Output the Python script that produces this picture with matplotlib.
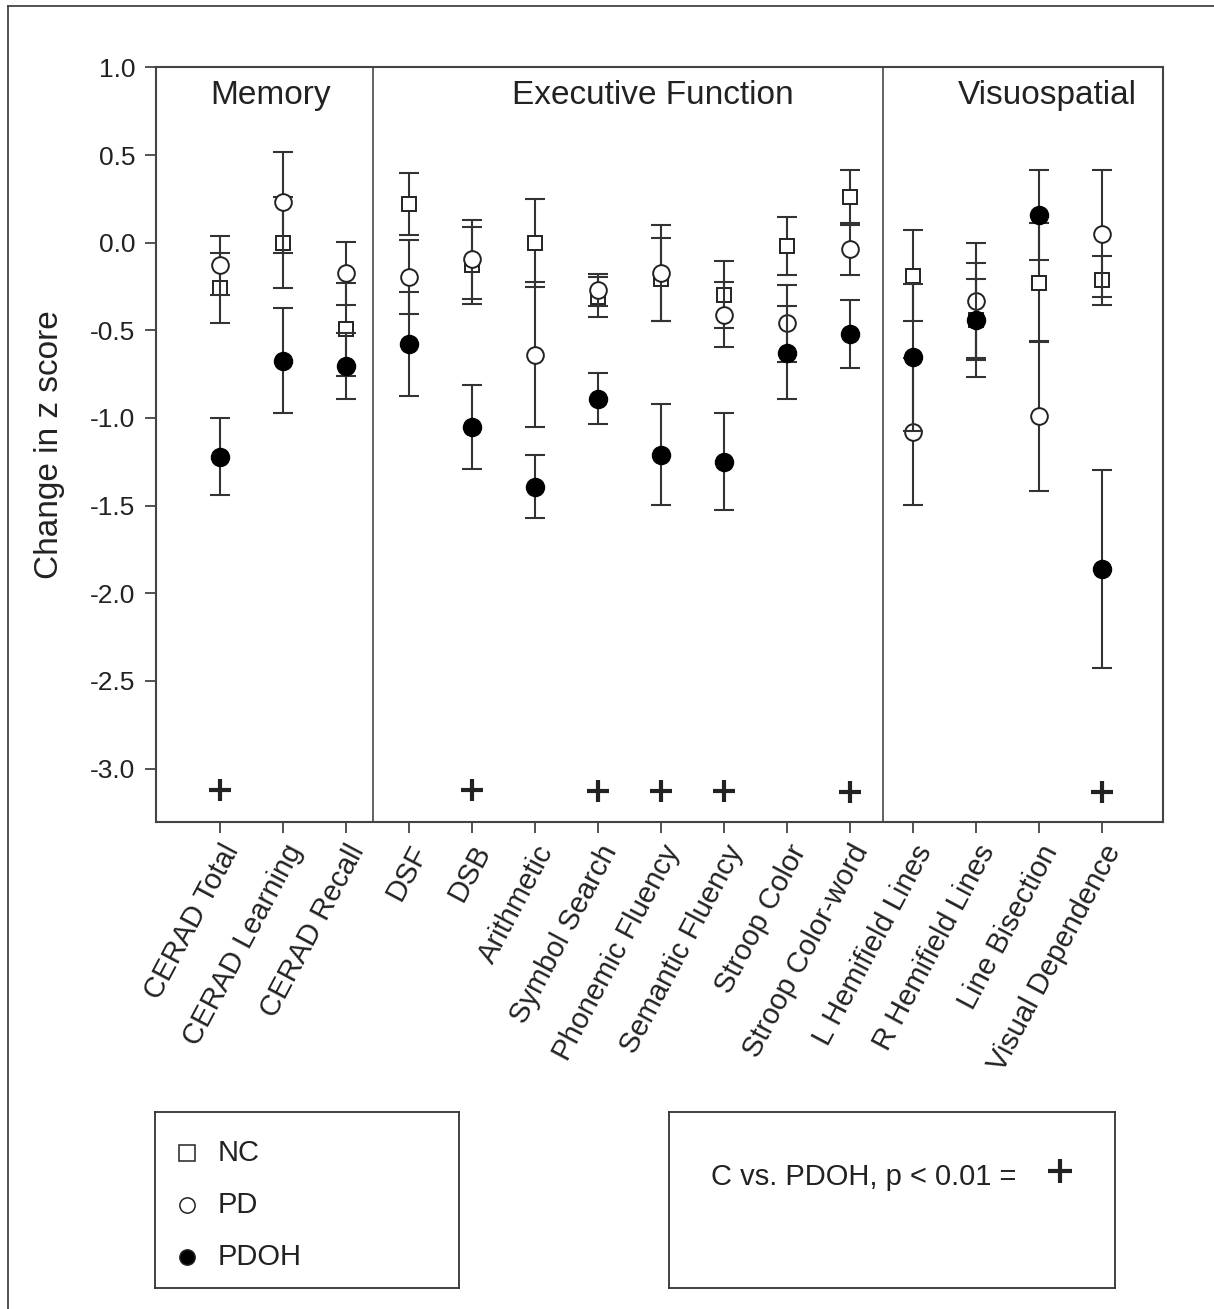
import matplotlib
matplotlib.use("Agg")
import matplotlib.pyplot as plt
from matplotlib.lines import Line2D
import numpy as np

plt.rcParams["font.family"] = ["Liberation Sans", "DejaVu Sans"]

# test names, grouped by domain
categories = [
    "CERAD Total", "CERAD Learning", "CERAD Recall",
    "DSF", "DSB", "Arithmetic", "Symbol Search", "Phonemic Fluency",
    "Semantic Fluency", "Stroop Color", "Stroop Color-word",
    "L Hemifield Lines", "R Hemifield Lines", "Line Bisection", "Visual Dependence",
]

# mean change in z score and error
nc_mean = [-0.257, 0.0, -0.494, 0.221, -0.13, 0.0, -0.31, -0.21, -0.296, -0.017, 0.258, -0.189, -0.44, -0.228, -0.215]
nc_err = [0.20, 0.26, 0.265, 0.175, 0.22, 0.252, 0.115, 0.235, 0.19, 0.165, 0.157, 0.26, 0.23, 0.34, 0.14]
pd_mean = [-0.13, 0.23, -0.175, -0.196, -0.095, -0.638, -0.27, -0.174, -0.41, -0.461, -0.037, -1.079, -0.33, -0.987, 0.052]
pd_err = [0.167, 0.29, 0.18, 0.209, 0.225, 0.415, 0.09, 0.273, 0.185, 0.218, 0.15, 0.42, 0.33, 0.428, 0.362]
pdoh_mean = [-1.22, -0.673, -0.703, -0.577, -1.052, -1.393, -0.889, -1.209, -1.25, -0.628, -0.522, -0.655, -0.44, 0.157, -1.86]
pdoh_err = [0.22, 0.30, 0.19, 0.295, 0.24, 0.18, 0.147, 0.29, 0.277, 0.265, 0.195, 0.42, 0.325, 0.257, 0.565]

# C vs PDOH significant at p < 0.01
sig_idx = [0, 4, 6, 7, 8, 10, 14]
sig_y = [-3.12, -3.12, -3.13, -3.13, -3.13, -3.135, -3.135]

section_names = ["Memory", "Executive Function", "Visuospatial"]
section_x = [0.81, 6.87, 13.13]
section_bounds = [2.44, 10.53]

yticks = [1.0, 0.5, 0.0, -0.5, -1.0, -1.5, -2.0, -2.5, -3.0]

W, H = 1214, 1309
fig = plt.figure(figsize=(W / 100, H / 100), dpi=100)
ax = fig.add_axes([156 / W, 1 - 822 / H, (1163 - 156) / W, (822 - 67.4) / H])

ink = "#222222"
narrow = ["Liberation Sans Narrow", "Liberation Sans", "DejaVu Sans"]
x = np.arange(len(categories))
err_kw = dict(fmt="none", ecolor="#333333", elinewidth=1.5, capsize=7, capthick=1.5)

ax.errorbar(x, nc_mean, yerr=nc_err, **err_kw, zorder=2)
ax.plot(x, nc_mean, "s", ms=10, mfc="white", mec=ink, mew=1.4, ls="none", zorder=3)
ax.errorbar(x, pd_mean, yerr=pd_err, **err_kw, zorder=4)
ax.plot(x, pd_mean, "o", ms=12, mfc="white", mec=ink, mew=1.4, ls="none", zorder=5)
ax.errorbar(x, pdoh_mean, yerr=pdoh_err, **err_kw, zorder=6)
ax.plot(x, pdoh_mean, "o", ms=13, mfc="black", mec="black", ls="none", zorder=7)

ax.plot(np.array(sig_idx), sig_y, "+", ms=16, mew=3, color=ink, ls="none")

for b in section_bounds:
    ax.axvline(b, color="#555555", lw=1.3)
for name, sx in zip(section_names, section_x):
    ax.text(sx, 0.84, name, ha="center", va="center", fontsize=24, color=ink)

ax.set_xlim(-1.01, 14.97)
ax.set_ylim(-3.305, 1.0)
ax.set_yticks(yticks)
ax.set_yticklabels([f"{v:.1f}" for v in yticks], fontsize=19, color=ink)
ax.set_xticks(x)
ax.set_xticklabels(categories, rotation=62, ha="right", rotation_mode="anchor",
                   fontsize=21, color=ink)
ax.tick_params(axis="both", direction="out", length=8, width=1.3, color="#444444")
ax.tick_params(axis="x", pad=5)
ax.tick_params(axis="y", pad=7)
for sp in ax.spines.values():
    sp.set_color("#444444")
    sp.set_linewidth(1.5)
ax.set_ylabel("Change in z score", fontsize=24, color=ink, labelpad=18)

# marker key box
key = fig.add_axes([155 / W, 1 - 1288 / H, 304 / W, 176 / H])
key.set_xticks([])
key.set_yticks([])
key.set_xlim(0, 1)
key.set_ylim(0, 1)
for sp in key.spines.values():
    sp.set_color("#333333")
    sp.set_linewidth(1.3)
key_rows = [("NC", "s", "white"), ("PD", "o", "white"), ("PDOH", "o", "black")]
key_y = [0.767, 0.472, 0.176]
for (lab, mk, fc), ky in zip(key_rows, key_y):
    key.plot([0.105], [ky], mk, ms=11, mfc=fc, mec=ink, mew=1.1)
    key.text(0.205, ky, lab, ha="left", va="center", fontsize=21, color=ink, family=narrow)

# significance note box
note = fig.add_axes([669 / W, 1 - 1288 / H, 446 / W, 176 / H])
note.set_xticks([])
note.set_yticks([])
note.set_xlim(0, 1)
note.set_ylim(0, 1)
for sp in note.spines.values():
    sp.set_color("#333333")
    sp.set_linewidth(1.3)
note.text(0.094, 0.63, "C vs. PDOH, p < 0.01 =", ha="left", va="center", fontsize=21,
          color=ink, family=narrow)
note.plot([0.877], [0.665], "+", ms=17, mew=3, color=ink)

# outer frame of the original figure
fig.add_artist(Line2D([8 / W, 1], [1 - 6 / H, 1 - 6 / H], color="#444444", lw=1.3))
fig.add_artist(Line2D([8 / W, 8 / W], [0, 1 - 6 / H], color="#444444", lw=1.3))

fig.savefig("out.png", dpi=100)
